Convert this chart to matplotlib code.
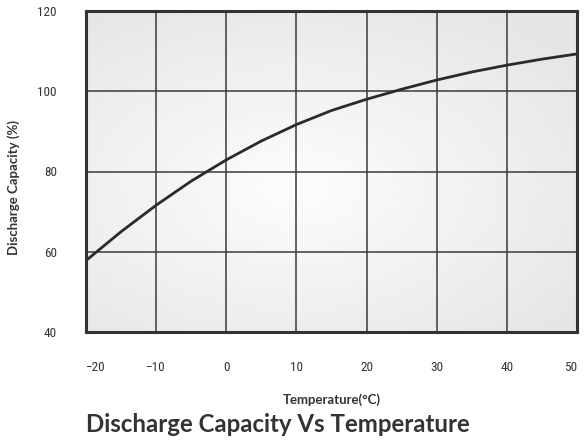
"""Discharge capacity vs temperature curve."""

import matplotlib
matplotlib.use('Agg')
import matplotlib.pyplot as plt
import numpy
from matplotlib import font_manager

# values
temperature = [-20, -15, -10, -5, 0, 5, 10, 15, 20, 25, 30, 35, 40, 45, 50]
capacity = [57.8, 65.0, 71.6, 77.6, 82.9, 87.6, 91.7, 95.2, 98.0, 100.5,
            102.8, 104.8, 106.5, 108.0, 109.3]
x_ticks = [-20, -10, 0, 10, 20, 30, 40, 50]
y_ticks = [40, 60, 80, 100, 120]

INK = '#333333'


def pick(*names):
    known = {f.name for f in font_manager.fontManager.ttflist}
    for name in names:
        if name in known:
            return name
    return 'DejaVu Sans'


narrow = pick('Liberation Sans Narrow', 'Roboto Condensed', 'Roboto')
humanist = pick('Lato', 'Open Sans', 'Noto Sans')

figure = plt.figure(figsize=(5.87, 4.41), dpi=100)
axis = figure.add_axes([86 / 587, 1 - 332 / 441, 491 / 587, 321 / 441])

# soft radial background, light in the middle, grey towards the edges
gx, gy = numpy.meshgrid(numpy.linspace(-1, 1, 200), numpy.linspace(-1, 1, 200))
radius = numpy.sqrt(((gx + 0.15) / 1.1) ** 2 + ((gy + 0.1) / 1.0) ** 2)
shade = 0.99 - 0.09 * numpy.clip(radius, 0, 1.3) / 1.3
axis.imshow(shade, cmap='gray', vmin=0, vmax=1, extent=(-20, 50, 40, 120),
            aspect='auto', zorder=0, origin='lower')

axis.plot(temperature, capacity, color='#2a2a2a', linewidth=2.0, zorder=3,
          solid_capstyle='butt', solid_joinstyle='round')

axis.set_xlim(-20, 50)
axis.set_ylim(40, 120)
axis.set_xticks(x_ticks)
axis.set_yticks(y_ticks)
axis.grid(True, color='#3a3a3a', linewidth=1.1)
axis.set_axisbelow(False)
for line in axis.get_xgridlines() + axis.get_ygridlines():
    line.set_zorder(2)
for spine in axis.spines.values():
    spine.set_linewidth(2.2)
    spine.set_color(INK)
    spine.set_zorder(4)

axis.tick_params(length=0, labelsize=9.5, labelcolor=INK)
axis.tick_params(axis='x', pad=21)
axis.tick_params(axis='y', pad=21)
for label in axis.get_xticklabels() + axis.get_yticklabels():
    label.set_family(narrow)
xlabels = axis.get_xticklabels()
xlabels[0].set_ha('left')
xlabels[-1].set_ha('right')

axis.set_xlabel('Temperature(°C)', family=humanist, fontweight='bold',
                fontsize=9.5, color=INK)
axis.xaxis.set_label_coords(0.5, -0.19)
axis.set_ylabel('Discharge Capacity (%)', family=humanist, fontweight='bold',
                fontsize=9.5, color=INK)
axis.yaxis.set_label_coords(-0.135, 0.45)

figure.text(86 / 587, 1 - 425 / 441, 'Discharge Capacity Vs Temperature',
            family=humanist, fontweight='bold', fontsize=17.3, color=INK,
            ha='left', va='center')

figure.savefig('out.png', dpi=100)
plt.close(figure)
